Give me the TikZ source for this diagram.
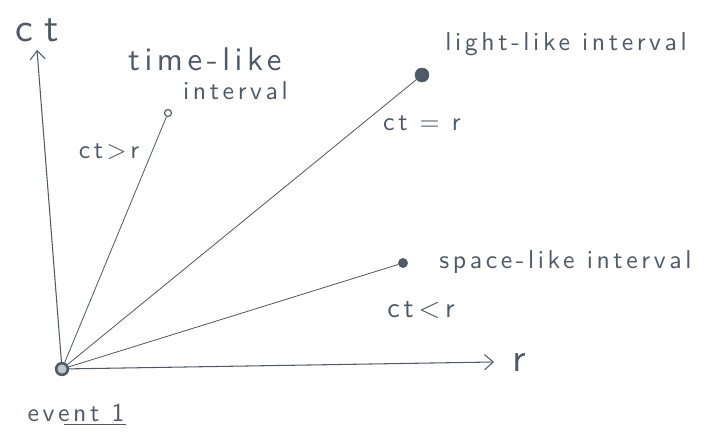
\documentclass[tikz,border=0pt]{standalone}
\usepackage{fontspec}
\usepackage{tikz}
\usetikzlibrary{arrows.meta,positioning}
\newfontfamily\hand{lmsans10-regular.otf}[LetterSpace=14]
\definecolor{Pencil}{HTML}{4F5A66}

\begin{document}
\begin{tikzpicture}[x=0.03cm,y=-0.03cm,
    node distance=2mm and 5mm,
    dot/.style={circle,draw=Pencil,fill=Pencil,inner sep=0pt,minimum size=#1},
    ring/.style={circle,draw=Pencil,line width=1pt,fill=white,inner sep=0pt,minimum size=#1},
    ray/.style={Pencil,line width=0.7pt},
    axis/.style={Pencil,line width=0.9pt,-{Straight Barb[length=2.6mm,width=4.6mm]}},
    lbl/.style={text=Pencil,font=\hand\fontsize{22}{24}\selectfont,inner sep=1pt},
    big/.style={text=Pencil,font=\hand\fontsize{34}{38}\selectfont,inner sep=1pt}
  ]
  \useasboundingbox (0,0) rectangle (714,432);
  % event and the three interval end points
  \node[ring=10pt,line width=2.2pt,fill=Pencil!35] (ev) at (62,369) {};
  \node[ring=6pt] (tl) at (168,113) {};
  \node[dot=12pt] (ll) at (422,75) {};
  \node[dot=8pt] (sl) at (403,263) {};
  % axes
  \coordinate (cttip) at (37,50);
  \coordinate (rtip) at (494,362);
  \draw[axis] (ev) -- (cttip);
  \draw[axis] (ev) -- (rtip);
  \node[big] (ct) at (37,30) {c\hspace*{10pt}t};
  \node[big,right=of rtip] (r) {r};
  % intervals
  \draw[ray] (ev) -- (tl);
  \draw[ray] (ev) -- (ll);
  \draw[ray] (ev) -- (sl);
  \node[lbl,align=left] (tllbl) at (208,74)
    {{\fontsize{28}{30}\selectfont time-like}\\[1pt]\hspace*{1.65cm}interval};
  \node[lbl] (tlcond) at (109,152) {ct\textgreater r};
  \node[lbl,anchor=west] (lllbl) at (444,44) {light-like interval};
  \node[lbl] (llcond) at (422,123) {ct = r};
  \node[lbl,anchor=west] (sllbl) at (438,262) {space-like interval};
  \node[lbl,font=\hand\fontsize{24}{26}\selectfont] (slcond) at (421,310) {ct\hspace{4pt}\textless\hspace{4pt}r};
  % event label
  \node[lbl] (evlbl) at (76,413) {event 1};
  \draw[Pencil,line width=0.8pt] ([xshift=-1.85cm,yshift=-1pt]evlbl.south east) -- ([yshift=-1pt]evlbl.south east);
\end{tikzpicture}
\end{document}
